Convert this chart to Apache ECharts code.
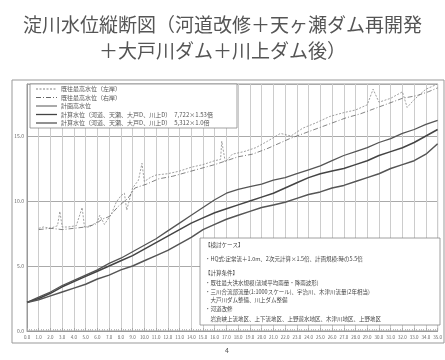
<!DOCTYPE html>
<html>
<head>
<meta charset="utf-8">
<script src="https://cdn.jsdelivr.net/npm/echarts@6/dist/echarts.min.js"></script>
<style>
  html, body { margin: 0; padding: 0; background: #fff; }
  #chart { width: 445px; height: 360px; }
</style>
</head>
<body>
<div id="chart"></div>
<script>
// 距離標 (km)
const distanceKm = [0, 1, 2, 3, 4, 5, 6, 7, 8, 9, 10, 11, 12, 13, 14, 15, 16, 17,
  18, 19, 20, 21, 22, 23, 24, 25, 26, 27, 28, 29, 30, 31, 32, 33, 34, 35]

// 計画高水位
const planHighWater = [2.2, 2.6, 3.0, 3.5, 3.9, 4.3, 4.7, 5.2, 5.6, 6.1, 6.6, 7.1, 7.7, 8.3,
  8.9, 9.5, 10.1, 10.6, 10.9, 11.1, 11.3, 11.6, 11.8, 12.1, 12.4, 12.7, 13.1, 13.5, 13.8,
  14.1, 14.5, 14.8, 15.2, 15.5, 15.9, 16.2]

// 計算水位 (1.53倍)
const calcLevelA = [2.2, 2.5, 2.9, 3.4, 3.8, 4.2, 4.6, 5.0, 5.4, 5.8, 6.3, 6.8, 7.3, 7.8,
  8.3, 8.7, 9.1, 9.4, 9.7, 10.0, 10.3, 10.6, 11.0, 11.4, 11.8, 12.1, 12.3, 12.5, 12.8,
  13.1, 13.5, 13.8, 14.1, 14.5, 15.0, 15.5]

// 計算水位 (1.0倍)
const calcLevelB = [2.2, 2.4, 2.7, 3.0, 3.3, 3.6, 4.0, 4.3, 4.7, 5.0, 5.4, 5.8, 6.2, 6.7,
  7.2, 7.8, 8.2, 8.6, 8.9, 9.2, 9.5, 9.7, 9.9, 10.2, 10.5, 10.7, 11.0, 11.2, 11.5, 11.8,
  12.1, 12.5, 12.8, 13.1, 13.6, 14.4]

// 既往最高水位 (左岸)
const highKmL = [1.0, 1.4, 2.0, 2.6, 2.8, 3.0, 3.5, 4.2, 4.7, 4.9, 5.3, 6.0, 6.2, 6.6, 7.2,
  7.6, 8.0, 8.3, 8.5, 9.0, 9.5, 9.8, 10.0, 10.5, 11.0, 12.0, 13.0, 14.0, 15.0, 16.0, 16.5,
  16.6, 16.9, 17.5, 18.5, 19.5, 20.5, 21.6, 22.5, 23.5, 24.6, 25.8, 27.0, 28.0, 29.0, 29.5,
  30.0, 31.0, 32.0, 32.4, 33.0, 34.0, 35.0]
const highLevelL = [7.9, 8.0, 7.9, 8.1, 9.2, 8.0, 8.0, 8.1, 9.5, 8.0, 8.0, 8.4, 8.9, 8.2, 9.0,
  9.9, 10.4, 10.6, 9.3, 11.0, 11.6, 12.9, 11.5, 11.8, 12.0, 12.1, 12.3, 12.6, 12.8, 13.1, 13.2,
  14.6, 13.0, 13.6, 13.8, 14.1, 14.6, 15.2, 15.0, 15.6, 16.0, 16.5, 16.8, 17.0, 17.4, 18.6,
  17.6, 17.9, 18.4, 17.2, 17.8, 18.6, 19.0]

// 既往最高水位 (右岸)
const highKmR = [1.0, 2.0, 3.0, 4.0, 5.0, 5.8, 6.4, 7.0, 7.8, 8.6, 9.2, 10.2, 11.2, 12.4, 13.6,
  14.8, 16.0, 17.0, 18.0, 19.2, 20.4, 21.4, 22.4, 23.6, 24.8, 26.0, 27.2, 28.4, 29.6, 30.8,
  32.0, 33.2, 34.2, 35.0]
const highLevelR = [7.8, 7.9, 7.8, 7.9, 8.0, 8.2, 8.6, 8.8, 9.6, 10.2, 11.0, 11.3, 11.7, 11.9, 12.2,
  12.5, 12.8, 13.1, 13.4, 13.6, 14.0, 14.4, 14.8, 15.2, 15.6, 16.0, 16.4, 16.7, 17.1, 17.5,
  17.9, 18.1, 18.4, 18.7]

const seriesNames = [
  '既往最高水位（左岸）',
  '既往最高水位（右岸）',
  '計画高水位',
  '計算水位（河道、天瀬、大戸D、川上D）　7,722×1.53倍',
  '計算水位（河道、天瀬、大戸D、川上D）　5,312×1.0倍'
]

const noteLines = [
  '【検討ケース】',
  '・HQ式:定常流＋1.0m、2次元計算×1.5倍、計画規模:時の5.5倍',
  '【計算条件】',
  '・既往最大洪水規模(流域平均雨量・降雨波形)',
  '・三川合流部流量(1:1000スケール)、宇治川、木津川流量(2年相当)',
  '　大戸川ダム整備、川上ダム整備',
  '・河道改修',
  '　岩倉峡上流地区、上下流地区、上野遊水地区、木津川地区、上野地区'
]

const zip = (xs, ys) => xs.map((x, i) => [x, ys[i]])

const font = '"Noto Sans CJK JP", "Noto Sans", sans-serif'
const myChart = echarts.init(document.getElementById('chart'))

// 凡例の線の見本
const legendStyles = [
  { stroke: '#777', lineWidth: 0.9, lineDash: [2, 1.5] },
  { stroke: '#555', lineWidth: 0.9, lineDash: [5, 2, 1, 2] },
  { stroke: '#555', lineWidth: 1 },
  { stroke: '#444', lineWidth: 1.3 },
  { stroke: '#555', lineWidth: 1.3 }
]

const legendChildren = [
  {
    type: 'rect',
    z: 20,
    shape: { x: 0, y: 0, width: 207, height: 44 },
    style: { fill: '#fff', stroke: '#888', lineWidth: 0.8 }
  }
]
seriesNames.forEach((name, i) => {
  const y = 5 + i * 8.5
  legendChildren.push({
    type: 'line',
    z: 21,
    shape: { x1: 6, y1: y, x2: 27, y2: y },
    style: Object.assign({ fill: 'none' }, legendStyles[i])
  })
  legendChildren.push({
    type: 'text',
    z: 21,
    x: 31,
    y: y,
    style: {
      text: name,
      font: '6px ' + font,
      fill: '#555',
      textVerticalAlign: 'middle'
    }
  })
})

const noteChildren = [
  {
    type: 'rect',
    z: 20,
    shape: { x: 0, y: 0, width: 240, height: 87 },
    style: { fill: '#fff', stroke: '#888', lineWidth: 0.8 }
  }
].concat(noteLines.map((t, i) => ({
  type: 'text',
  z: 21,
  x: 5,
  y: [7, 21, 35, 45, 54, 62, 71, 81][i],
  style: {
    text: t,
    font: '5.5px ' + font,
    fill: '#444',
    textVerticalAlign: 'middle'
  }
})))

const option = {
  animation: false,
  backgroundColor: '#fff',
  title: {
    text: '淀川水位縦断図（河道改修＋天ヶ瀬ダム再開発\n＋大戸川ダム＋川上ダム後）',
    left: 'center',
    top: 7,
    textStyle: {
      fontFamily: font,
      fontSize: 19,
      fontWeight: 400,
      lineHeight: 26,
      color: '#555'
    }
  },
  grid: {
    left: 27,
    right: 2,
    top: 84,
    bottom: 29,
    containLabel: false,
    show: true,
    borderColor: '#999',
    borderWidth: 1
  },
  xAxis: {
    type: 'value',
    min: 0,
    max: 35,
    interval: 1,
    axisLine: { show: true, lineStyle: { color: '#999', width: 1 } },
    axisTick: { show: true, inside: true, length: 3, lineStyle: { color: '#aaa' } },
    minorTick: { show: true, splitNumber: 5, length: 2, lineStyle: { color: '#bbb' } },
    axisLabel: {
      fontFamily: font,
      fontSize: 4.5,
      color: '#666',
      margin: 4,
      formatter: (v) => v.toFixed(1)
    },
    splitLine: { show: true, lineStyle: { color: '#cccccc', width: 1 } }
  },
  yAxis: {
    type: 'value',
    min: 0,
    max: 19,
    interval: 5,
    axisLine: { show: true, lineStyle: { color: '#999' } },
    axisTick: { show: false },
    axisLabel: {
      fontFamily: font,
      fontSize: 5,
      color: '#666',
      margin: 3,
      showMaxLabel: false,
      formatter: (v) => v.toFixed(1)
    },
    splitLine: { show: true, lineStyle: { color: '#aaa', width: 1 } }
  },
  series: [
    {
      name: seriesNames[0],
      type: 'line',
      symbol: 'none',
      data: zip(highKmL, highLevelL),
      lineStyle: { color: '#888', width: 0.8, type: [2, 1.5] },
      z: 3
    },
    {
      name: seriesNames[1],
      type: 'line',
      symbol: 'none',
      data: zip(highKmR, highLevelR),
      lineStyle: { color: '#666', width: 0.8, type: [5, 2, 1, 2] },
      z: 3
    },
    {
      name: seriesNames[2],
      type: 'line',
      symbol: 'none',
      data: zip(distanceKm, planHighWater),
      lineStyle: { color: '#555', width: 1.3 },
      z: 4
    },
    {
      name: seriesNames[3],
      type: 'line',
      symbol: 'none',
      data: zip(distanceKm, calcLevelA),
      lineStyle: { color: '#444', width: 1.5 },
      z: 4
    },
    {
      name: seriesNames[4],
      type: 'line',
      symbol: 'none',
      data: zip(distanceKm, calcLevelB),
      lineStyle: { color: '#555', width: 1.5 },
      z: 4
    }
  ],
  graphic: [
    {
      type: 'rect',
      z: 1,
      shape: { x: 12, y: 80, width: 432, height: 263 },
      style: { fill: 'none', stroke: '#999', lineWidth: 1 }
    },
    {
      type: 'group',
      x: 30,
      y: 84,
      children: legendChildren
    },
    {
      type: 'group',
      x: 200,
      y: 238,
      children: noteChildren
    },
    {
      type: 'text',
      z: 21,
      x: 225,
      y: 347,
      style: { text: '4', font: '7px ' + font, fill: '#555' }
    }
  ]
}

myChart.setOption(option)
</script>
</body>
</html>
